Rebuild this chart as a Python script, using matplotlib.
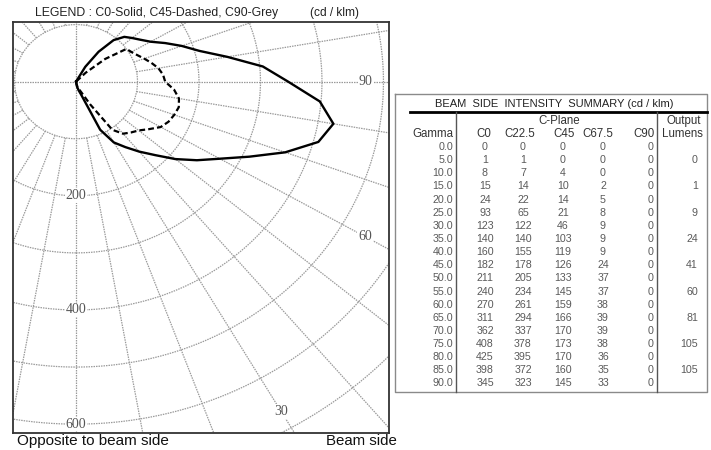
import numpy as np
import matplotlib
matplotlib.use('Agg')
import matplotlib.pyplot as plt

# ---- data (cd / klm) ----
gamma = np.arange(0, 95, 5)
c0 = [0, 1, 8, 15, 24, 93, 123, 140, 160, 182, 211, 240, 270, 311, 362, 408, 425, 398, 345]
c225 = [0, 1, 7, 14, 22, 65, 122, 140, 155, 178, 205, 234, 261, 294, 337, 378, 395, 372, 323]
c45 = [0, 0, 4, 10, 14, 21, 46, 103, 119, 126, 133, 145, 159, 166, 170, 173, 170, 160, 145]
c675 = [0, 0, 0, 2, 5, 8, 9, 9, 9, 24, 37, 37, 38, 39, 39, 38, 36, 35, 33]
c90 = [0] * 19
lumens = [0, 1, 9, 24, 41, 60, 81, 105, 105]   # rows 5, 15, ... 85

# upper half of the diagram (gamma > 90)
gamma_up = np.arange(95, 185, 5)
c0_up = [305, 250, 208, 183, 160, 140, 128, 119, 111, 95, 64, 30, 0, 0, 0, 0, 0, 0]
c45_up = [142, 136, 127, 118, 110, 104, 100, 62, 22, 0, 0, 0, 0, 0, 0, 0, 0, 0]

ring_labels = [200, 400, 600]
angle_labels = [90, 60, 30]

sans = 'Liberation Sans'
serif = 'Liberation Serif'

fig = plt.figure(figsize=(7.11, 4.5), dpi=100)

# ---- polar diagram ----
ax = fig.add_axes([12.7 / 711, 17.3 / 450, 376.3 / 711, 410.4 / 450])
ax.set_xlim(-103, 509)
ax.set_ylim(-615, 104)
ax.set_xticks([])
ax.set_yticks([])
for s in ax.spines.values():
    s.set_color('#333333')
    s.set_linewidth(1.3)

gcol = '#9a9a9a'
gls = (0, (1.2, 0.8))
th = np.linspace(0, 2 * np.pi, 500)
for r in range(100, 1000, 100):
    ax.plot(r * np.sin(th), -r * np.cos(th), color=gcol, lw=0.9, ls=gls, zorder=1)
for a in range(0, 360, 10):
    r0 = 0 if a % 90 == 0 else 100
    t = np.radians(a)
    ax.plot([r0 * np.sin(t), 1000 * np.sin(t)], [-r0 * np.cos(t), -1000 * np.cos(t)],
            color=gcol, lw=0.9, ls=gls, zorder=1)

box = dict(facecolor='white', edgecolor='none', pad=0.6)
for v in ring_labels:
    ax.text(0, -v, str(v), ha='center', va='center', fontsize=10, family=serif,
            color='#555555', bbox=box, zorder=2)
for a, rr in zip(angle_labels, [471, 543, 667]):
    t = np.radians(a)
    ax.text(rr * np.sin(t), -rr * np.cos(t), str(a), ha='center', va='center',
            fontsize=10, family=serif, color='#555555', bbox=box, zorder=2)


def xy(g, r):
    g = np.radians(np.asarray(g, dtype=float))
    r = np.asarray(r, dtype=float)
    return r * np.sin(g), -r * np.cos(g)


g_all = np.concatenate([gamma, gamma_up])
x, y = xy(g_all, c0 + c0_up)
ax.plot(x, y, color='black', lw=1.7, zorder=3)
x, y = xy(g_all, c45 + c45_up)
ax.plot(x, y, color='black', lw=1.6, ls=(0, (2.6, 1.4)), zorder=3)
x, y = xy(gamma, c90)
ax.plot(x, y, color='#888888', lw=1.5, solid_capstyle='butt', zorder=3)

# ---- overlay in pixel coordinates for texts and the table ----
ov = fig.add_axes([0, 0, 1, 1])
ov.set_xlim(0, 711)
ov.set_ylim(450, 0)
ov.axis('off')
ov.patch.set_alpha(0)

ov.text(35, 13, 'LEGEND : C0-Solid, C45-Dashed, C90-Grey', fontsize=8.8, family=sans,
        color='#222222', va='center', ha='left')
ov.text(310, 13, '(cd / klm)', fontsize=8.6, family=sans, color='#222222', va='center', ha='left')
ov.text(17, 441, 'Opposite to beam side', fontsize=11, family=sans, color='#111111',
        va='center', ha='left')
ov.text(397, 441, 'Beam side', fontsize=10.8, family=sans, color='#111111',
        va='center', ha='right')

# table frame
ov.plot([395, 707, 707, 395, 395], [94, 94, 392, 392, 94], color='#8a8a8a', lw=1)
ov.plot([410, 707], [112, 112], color='black', lw=2)
ov.plot([456, 456], [112, 392], color='#555555', lw=1)
ov.plot([657, 657], [112, 392], color='#555555', lw=1)

ov.text(554, 104, 'BEAM  SIDE  INTENSITY  SUMMARY (cd / klm)', fontsize=8, family=sans,
        color='#222222', ha='center', va='center')
hc = '#333333'
hs = 8.3
ov.text(559, 121, 'C-Plane', fontsize=hs, family=sans, color=hc, ha='center', va='center')
ov.text(684, 121, 'Output', fontsize=hs, family=sans, color=hc, ha='center', va='center')
ov.text(453, 134, 'Gamma', fontsize=hs, family=sans, color=hc, ha='right', va='center')
for lab, xc in zip(['C0', 'C22.5', 'C45', 'C67.5'], [484, 520, 564, 598]):
    ov.text(xc, 134, lab, fontsize=hs, family=sans, color=hc, ha='center', va='center')
ov.text(655, 134, 'C90', fontsize=hs, family=sans, color=hc, ha='right', va='center')
ov.text(682, 134, 'Lumens', fontsize=hs, family=sans, color=hc, ha='center', va='center')

vc = '#5a5a5a'
vs = 7.7
step = (383.5 - 147) / 18
for i, g in enumerate(gamma):
    yy = 147 + i * step
    ov.text(453, yy, '%.1f' % g, fontsize=vs, family=sans, color=vc, ha='right', va='center')
    for col, xc in zip([c0, c225, c45, c675], [485, 523, 563, 603]):
        ov.text(xc, yy, str(col[i]), fontsize=vs, family=sans, color=vc, ha='center', va='center')
    ov.text(654, yy, str(c90[i]), fontsize=vs, family=sans, color=vc, ha='right', va='center')
for k, v in enumerate(lumens):
    yy = 147 + (2 * k + 1) * step
    ov.text(698, yy, str(v), fontsize=vs, family=sans, color=vc, ha='right', va='center')

fig.savefig('out.png', dpi=100)
